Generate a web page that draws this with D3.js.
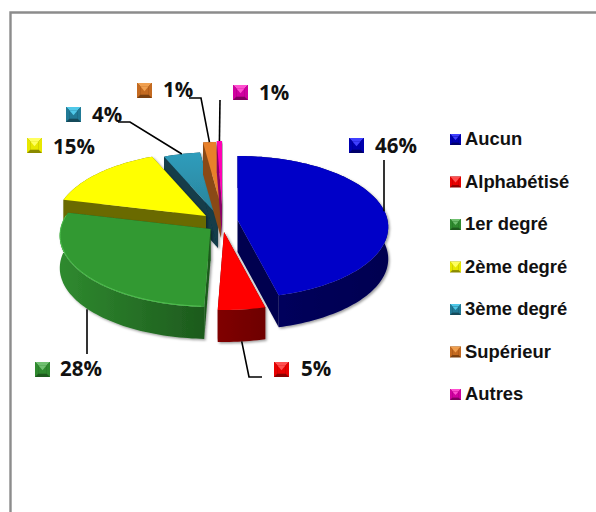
<!DOCTYPE html>
<html><head><meta charset="utf-8">
<script src="https://cdn.jsdelivr.net/npm/d3@7/dist/d3.min.js"></script>
<style>html,body{margin:0;padding:0;background:#fff}svg{display:block}</style></head>
<body><svg id="c" width="596" height="512"></svg>
<script>
// ---- data
const categories = ["Aucun","Alphabétisé","1er degré","2ème degré","3ème degré","Supérieur","Autres"];
const values = [46, 4.6, 28.2, 14.8, 4.3, 1.5, 0.6];
const labels = ["46%","5%","28%","15%","4%","1%","1%"];

// ---- styles and layout, kept apart from the data
const topColors  = ["#0000c8","#ff0000","#339933","#ffff00","#2d9ab8","#e8802a","#ff00b4"];
const wallLight  = ["#000060","#800000","#2f8a2f","#6b6b00","#123c4a","#8a4a18","#8a0066"];
const wallDark   = ["#000050","#6e0000","#1d5a1d","#6b6b00","#123c4a","#8a4a18","#8a0066"];
const legendHi   = ["#4040ff","#ff5050","#70c070","#ffff60","#50c8e8","#f0a050","#ff50d0"];
const legendBase = ["#0000b0","#e80000","#2f8a2f","#e8e800","#217a96","#c46a20","#d000a0"];
const legendLow  = ["#00006a","#8a0000","#1d5a1d","#8a8a00","#154a5a","#7a4010","#800060"];
const apex = [[237.5,220],[224,232],[210.5,229],[206,216],[218,216],[221,206],[222,205]];
const drawOrder = [4,5,6,3,0,2,1];
const labelAt = [[375,153],[301,376],[60,376],[53,154],[92,122],[163,97],[259,100]];
const markerAt = [[349,138],[274,362],[35,362],[27,138],[66,107],[137,83],[233,85]];
const leaders = [
  {slice:0, t:.5, x:384, to:[[384,160]]},
  {slice:1, t:.5, to:[[249,377],[262,377]]},
  {slice:2, t:.47, x:87, to:[[87,354]]},
  {slice:4, t:.5, to:[[130,122],[118,122]]},
  {slice:5, t:.5, to:[[201,98],[189,98]]},
  {slice:6, t:.5, to:[[220,100]]}
];
const rx = 150, ry = 70.3, persp = 0.098, depth = 32;
const legendX = 450, legendY0 = 139, legendStep = 42.5;

const svg = d3.select("#c");
const defs = svg.append("defs");
const f = defs.append("filter").attr("id","sh").attr("x","-10%").attr("y","-10%").attr("width","125%").attr("height","125%");
f.append("feDropShadow").attr("dx",1.5).attr("dy",1.5).attr("stdDeviation",1.3).attr("flood-color","#000").attr("flood-opacity",.38);

// frame
svg.append("path").attr("d","M10.5 512V12.5H596").attr("fill","none").attr("stroke","#8c8c8c").attr("stroke-width",2.4);

// pie angles through the library
const pie = d3.pie().sort(null).value(d=>d).startAngle(0).endAngle(2*Math.PI);
const arcs = pie(values);

function proj(i, a, z=0){
  const u = Math.sin(a), v = -Math.cos(a), s = 1/(1-persp*v);
  return [apex[i][0]+rx*u*s, apex[i][1]+ry*v*s+z];
}
function arcPts(i,a0,a1,z=0){
  const n = Math.max(4,Math.ceil((a1-a0)*40));
  return d3.range(n+1).map(k=>proj(i,a0+(a1-a0)*k/n,z));
}
const line = d3.line();

// gradients
topColors.forEach((c,i)=>{
  const g = defs.append("linearGradient").attr("id","w"+i).attr("x1",0).attr("x2",1).attr("y1",0).attr("y2",0);
  g.append("stop").attr("offset",0).attr("stop-color",wallLight[i]);
  g.append("stop").attr("offset",1).attr("stop-color",wallDark[i]);
  const t = defs.append("linearGradient").attr("id","t"+i).attr("x1",0).attr("x2",0).attr("y1",0).attr("y2",1);
  t.append("stop").attr("offset",0).attr("stop-color",i===4?"#2f9dbc":c);
  t.append("stop").attr("offset",1).attr("stop-color",i===4?"#2a8299":c);
});

const g = svg.append("g");
drawOrder.forEach(i=>{
  const d = arcs[i], a0=d.startAngle, a1=d.endAngle;
  const sl = g.append("g").attr("filter","url(#sh)");
  const C = apex[i], Cb=[C[0],C[1]+depth];
  const P0=proj(i,a0), P1=proj(i,a1);
  // inner walls
  [[C,Cb,proj(i,a0,depth),P0],[C,Cb,proj(i,a1,depth),P1]].forEach(q=>
    sl.append("path").attr("d",line(q)+"Z").attr("fill",wallDark[i]));
  // outer wall
  const top = arcPts(i,a0,a1), bot = arcPts(i,a0,a1,depth).reverse();
  sl.append("path").attr("d",line(top.concat(bot))+"Z").attr("fill",`url(#w${i})`);
  // top face
  const face = [C].concat(top);
  sl.append("path").attr("d",line(face)+"Z").attr("fill",`url(#t${i})`);
  if(i===2){
    sl.append("path").attr("d",line(arcPts(i,a0+.02,a1-.05).map(p=>[p[0]+.3,p[1]-.6]))).attr("fill","none").attr("stroke","#4fc04f").attr("stroke-width",1);
  }
});

// leaders
leaders.forEach(l=>{
  const d = arcs[l.slice];
  const a = d.startAngle+(d.endAngle-d.startAngle)*l.t;
  const z = (a>Math.PI/2 && a<3*Math.PI/2 && l.slice!==0)?depth:0;
  const p = proj(l.slice,a,z);
  if(l.x!==undefined) p[0]=l.x;
  svg.append("path").attr("d",line([p].concat(l.to))).attr("fill","none").attr("stroke","#000").attr("stroke-width",1.6);
});

function bevel(sel,x,y,s,i){
  const m = sel.append("g").attr("transform",`translate(${x},${y})`);
  const b = s*.22;
  m.append("rect").attr("width",s).attr("height",s).attr("fill",legendLow[i]);
  m.append("path").attr("d",`M0 0H${s}L${s-b} ${b}H${b}Z`).attr("fill",legendHi[i]);
  m.append("path").attr("d",`M0 0V${s}L${b} ${s-b}V${b}Z`).attr("fill",legendBase[i]);
  m.append("path").attr("d",`M${s} 0V${s}L${s-b} ${s-b}V${b}Z`).attr("fill",legendBase[i]);
  m.append("rect").attr("x",b).attr("y",b).attr("width",s-2*b).attr("height",s-2*b).attr("fill",legendBase[i]);
  m.append("path").attr("d",`M${b} ${b}H${s-b}L${s/2} ${s*.55}Z`).attr("fill",legendHi[i]);
}

// data labels
labels.forEach((t,i)=>{
  bevel(svg,markerAt[i][0],markerAt[i][1],15,i);
  svg.append("text").attr("x",labelAt[i][0]).attr("y",labelAt[i][1]).text(t)
    .attr("font-family","'Open Sans'").attr("font-weight",700).attr("font-size",20.5).attr("fill","#111");
});

// legend
categories.forEach((t,i)=>{
  const y = legendY0+i*legendStep;
  bevel(svg,legendX,y-5,11,i);
  svg.append("text").attr("x",legendX+15).attr("y",y+6).text(t)
    .attr("font-family","'Liberation Sans'").attr("font-weight",700).attr("font-size",18.4).attr("fill","#111");
});
</script></body></html>
